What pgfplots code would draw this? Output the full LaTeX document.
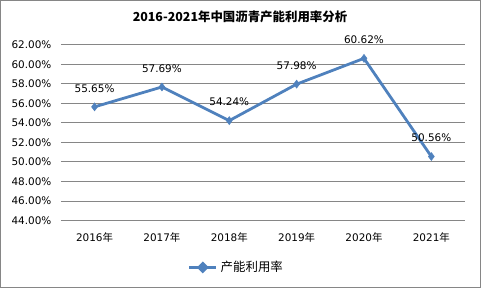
\documentclass[border=0pt]{standalone}
\usepackage{pgfplots}
\pgfplotsset{compat=1.18}
\usepackage{fontspec}
\setmainfont{DejaVu Sans}
\newfontfamily\cjk{Noto Sans CJK SC}
\definecolor{lineblue}{HTML}{4F81BD}
\definecolor{gridgray}{HTML}{868686}
\definecolor{framegray}{HTML}{868686}
\begin{document}
\begin{tikzpicture}
\begin{axis}[
  scale only axis,
  width=405bp, height=176bp,
  xmin=-0.5, xmax=5.5,
  ymin=44, ymax=62,
  ytick={44,46,48,50,52,54,56,58,60,62},
  yticklabel={\pgfmathprintnumber[fixed,fixed zerofill,precision=2]{\tick}\%},
  xtick={0,1,2,3,4,5},
  xticklabels={2016{\cjk 年},2017{\cjk 年},2018{\cjk 年},2019{\cjk 年},2020{\cjk 年},2021{\cjk 年}},
  ymajorgrids,
  grid style={gridgray, line width=1bp},
  axis line style={draw=none},
  axis x line*=bottom,
  axis y line*=left,
  major tick length=0pt,
  tick style={draw=none},
  tick label style={font=\fontsize{10.5}{12}\selectfont, text=black},
  /pgf/number format/assume math mode=true,
  yticklabel style={xshift=-6bp},
  xticklabel style={yshift=-9bp},
  nodes near coords={\pgfmathprintnumber[fixed,fixed zerofill,precision=2]{\pgfplotspointmeta}\%},
  nodes near coords style={font=\fontsize{10.5}{12}\selectfont, text=black, anchor=south, yshift=11bp},
  legend style={at={(127bp,-47bp)}, anchor=west, draw=none, fill=none, font=\cjk\fontsize{12.5}{14}\selectfont, legend columns=1, inner sep=0pt},
  legend cell align=left,
  legend image code/.code={\draw[#1, line width=3bp] (0bp,0bp) -- (27bp,0bp); \fill[lineblue] (13.5bp,4bp) -- (17.5bp,0bp) -- (13.5bp,-4bp) -- (9.5bp,0bp) -- cycle;},
  clip=false,
]
\addplot[color=lineblue, line width=2.8bp, mark=diamond*, mark size=4bp, mark options={fill=lineblue, draw=lineblue, line width=0.5bp}]
  coordinates {(0,55.65) (1,57.69) (2,54.24) (3,57.98) (4,60.62) (5,50.56)};
\addlegendentry{\hspace{1bp}产能利用率}
\end{axis}
\draw[framegray, line width=1bp] (-60.5bp,-67.5bp) rectangle (420.5bp,220.5bp);
\path[use as bounding box] (-61bp,-68bp) rectangle (420bp,221bp);
\node[font=\cjk\bfseries\fontsize{12.5}{14}\selectfont] at (179.5bp,204bp) {2016-2021年中国沥青产能利用率分析};
\end{tikzpicture}
\end{document}
